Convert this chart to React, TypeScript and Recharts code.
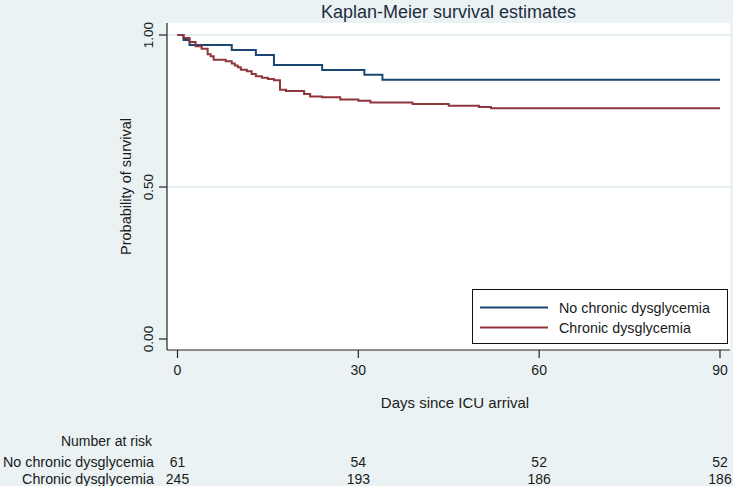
import React from 'react';
import { LineChart, Line, XAxis, YAxis, ReferenceLine, CartesianGrid } from 'recharts';

const W = 733;
const H = 486;

// Series: No chronic dysglycemia (Kaplan-Meier step values)
const noChronicDays = [0, 1, 2, 9, 13, 16, 24, 31, 34, 90];
const noChronicSurv = [1, 0.9836, 0.9672, 0.9508, 0.9344, 0.9016, 0.8852, 0.8689, 0.8525, 0.8525];

// Series: Chronic dysglycemia
const chronicDays = [0, 1, 2, 3, 4, 5, 5.5, 6, 8, 9, 9.5, 10, 10.5, 11.5, 12.3, 13, 14, 15, 16, 17, 18, 21, 22, 24, 27, 30, 32, 39, 45, 50, 52, 90];
const chronicSurv = [1, 0.99, 0.977, 0.963, 0.955, 0.937, 0.93, 0.919, 0.914, 0.906, 0.9, 0.894, 0.886, 0.881, 0.872, 0.864, 0.859, 0.855, 0.851, 0.82, 0.816, 0.806, 0.798, 0.795, 0.788, 0.784, 0.778, 0.773, 0.767, 0.763, 0.759, 0.759];

// Axis ticks
const xTicks = [0, 30, 60, 90];
const yTicks = [0, 0.5, 1];
const gridValues = [0.5, 1];

// Number at risk table
const riskTimes = [0, 30, 60, 90];
const riskNoChronic = [61, 54, 52, 52];
const riskChronic = [245, 193, 186, 186];

const seriesNames = ['No chronic dysglycemia', 'Chronic dysglycemia'];
const seriesColors = ['#1A476F', '#90353B'];

const noChronicData = noChronicDays.map((t, i) => ({ t, s: noChronicSurv[i] }));
const chronicData = chronicDays.map((t, i) => ({ t, s: chronicSurv[i] }));

const FONT = '"Liberation Sans", Arial, sans-serif';
const TEXT = '#1a1a1a';

const XTick = (props: any) => {
  const { x, y, payload } = props;
  const i = riskTimes.indexOf(payload.value);
  return (
    <g fontFamily={FONT} fontSize={14} fill={TEXT}>
      <text x={x} y={y + 17} textAnchor="middle" fill={TEXT}>{payload.value}</text>
      {i >= 0 && (
        <>
          <text x={x} y={y + 109} textAnchor="middle" fill={TEXT}>{riskNoChronic[i]}</text>
          <text x={x} y={y + 126} textAnchor="middle" fill={TEXT}>{riskChronic[i]}</text>
        </>
      )}
    </g>
  );
};

const YTick = (props: any) => {
  const { x, y, payload } = props;
  const bx = x - 5.5;
  return (
    <text
      x={bx}
      y={y}
      transform={`rotate(-90, ${bx}, ${y})`}
      textAnchor="middle"
      fontFamily={FONT}
      fontSize={13.5}
      fill={TEXT}
    >
      {Number(payload.value).toFixed(2)}
    </text>
  );
};

export default function App() {
  return (
    <div style={{ position: 'absolute', left: 0, top: 0, width: W, height: H, background: '#EAF2F3', overflow: 'hidden' }}>
      <LineChart width={W} height={H} margin={{ top: 23, right: 3, left: 0, bottom: 0 }}>
        <CartesianGrid fill="#ffffff" stroke="none" horizontal={false} vertical={false} />
        {gridValues.map((v) => (
          <ReferenceLine key={v} y={v} stroke="#DCEAEE" strokeWidth={1.5} />
        ))}
        <XAxis
          dataKey="t"
          type="number"
          domain={[-1.742, 91.66]}
          allowDataOverflow
          ticks={xTicks}
          tickSize={8}
          tickMargin={0}
          height={136}
          axisLine={{ stroke: '#222', strokeWidth: 1.2 }}
          tickLine={{ stroke: '#222', strokeWidth: 1.2 }}
          tick={<XTick />}
          interval={0}
        />
        <YAxis
          dataKey="s"
          type="number"
          domain={[-0.0362, 1.0395]}
          allowDataOverflow
          ticks={yTicks}
          tickSize={8}
          tickMargin={0}
          width={167}
          axisLine={{ stroke: '#222', strokeWidth: 1.2 }}
          tickLine={{ stroke: '#222', strokeWidth: 1.2 }}
          tick={<YTick />}
          interval={0}
        />
        <Line
          data={noChronicData}
          dataKey="s"
          name={seriesNames[0]}
          type="stepAfter"
          stroke={seriesColors[0]}
          strokeWidth={2}
          dot={false}
          activeDot={false}
          isAnimationActive={false}
        />
        <Line
          data={chronicData}
          dataKey="s"
          name={seriesNames[1]}
          type="stepAfter"
          stroke={seriesColors[1]}
          strokeWidth={2}
          dot={false}
          activeDot={false}
          isAnimationActive={false}
        />
      </LineChart>
      <svg width={W} height={H} style={{ position: 'absolute', left: 0, top: 0, pointerEvents: 'none' }}>
        <text x={448.5} y={17.5} textAnchor="middle" fontFamily={FONT} fontSize={18} fill="#1E2D40">
          Kaplan-Meier survival estimates
        </text>
        <text
          x={131}
          y={186.5}
          transform="rotate(-90, 131, 186.5)"
          textAnchor="middle"
          fontFamily={FONT}
          fontSize={14.5}
          fill={TEXT}
        >
          Probability of survival
        </text>
        <text x={455} y={407.5} textAnchor="middle" fontFamily={FONT} fontSize={15} fill={TEXT}>
          Days since ICU arrival
        </text>
        <text x={152} y={446} textAnchor="end" fontFamily={FONT} fontSize={14} fill={TEXT}>Number at risk</text>
        <text x={154} y={467} textAnchor="end" fontFamily={FONT} fontSize={14.3} fill={TEXT}>{seriesNames[0]}</text>
        <text x={154} y={484} textAnchor="end" fontFamily={FONT} fontSize={14.3} fill={TEXT}>{seriesNames[1]}</text>
        <g transform="translate(472, 289)">
          <rect x={0.5} y={0.5} width={255} height={54} fill="#ffffff" stroke="#111" strokeWidth={1} />
          {seriesNames.map((name, i) => (
            <g key={name}>
              <line x1={8} x2={76} y1={18.5 + i * 20} y2={18.5 + i * 20} stroke={seriesColors[i]} strokeWidth={2} />
              <text x={87} y={23.5 + i * 20} fontFamily={FONT} fontSize={14.3} fill={TEXT}>{name}</text>
            </g>
          ))}
        </g>
      </svg>
    </div>
  );
}
